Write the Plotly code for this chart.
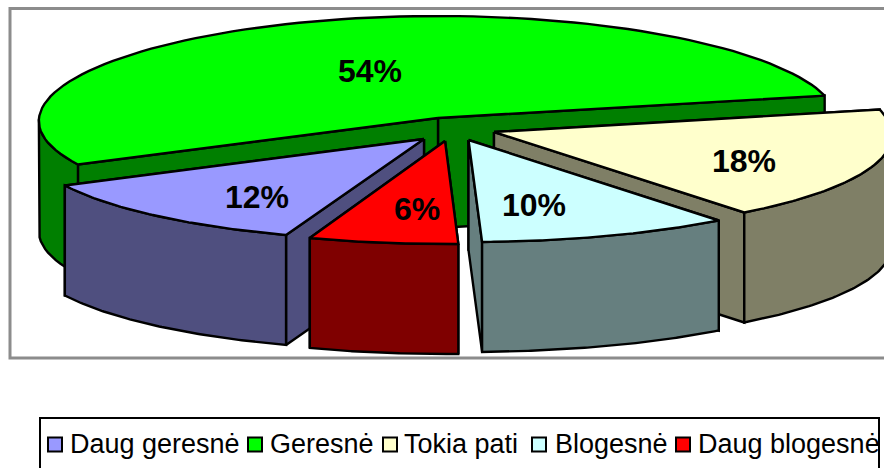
"""Exploded 3D-look pie drawn in pixel space, with a hand-placed legend row."""
import numpy as np
import plotly.graph_objects as go

categories = ["Daug geresnė", "Geresnė", "Tokia pati", "Blogesnė", "Daug blogesnė"]
shares = [12, 54, 18, 10, 6]

top_colours = ["#9999FF", "#00FF00", "#FFFFCC", "#CCFFFF", "#FF0000"]
side_colours = ["#4F4F7F", "#007F00", "#7F7F66", "#667F7F", "#7F0000"]

# per-slice explosion: apex position and ellipse radii
APEX_X = [424, 438, 494, 468.5, 445]
APEX_Y = [139, 118, 132, 140, 141]
RADIUS_X = [398, 399, 398, 398, 390]
RADIUS_Y = [102, 102, 102, 102, 103]

START_ANGLE = 250.3  # first slice starts here, runs clockwise
DEPTH = 110
PERSPECTIVE = 0.03

LABEL_X = [257, 370, 744, 534, 417]
LABEL_Y = [200, 74, 164, 208, 212]

LEGEND_MARK_X = [55, 255, 390, 539, 683]
LEGEND_TEXT_X = [70, 270, 404, 555, 698]
LEGEND_MARK_Y = 444.5
LEGEND_TEXT_Y = 446

W, H = 884, 468
fig = go.Figure()


def rim(cx, cy, rx, ry, angles):
    a = np.radians(angles)
    u, v = np.cos(a), np.sin(a)
    return cx + rx * u * (1 - PERSPECTIVE * v), cy - ry * v


def poly(xs, ys, colour):
    fig.add_trace(go.Scatter(
        x=list(xs) + [xs[0]], y=list(ys) + [ys[0]],
        mode="lines", fill="toself", fillcolor=colour,
        line={"color": "#000000", "width": 2.4},
        hoverinfo="skip", showlegend=False,
    ))


# each slice's angular range comes from its share
edges = START_ANGLE - np.cumsum([0] + shares) * 3.6

# back to front: green, cream, blue, cyan, red
for i in [1, 2, 0, 3, 4]:
    cx, cy, rx, ry = APEX_X[i], APEX_Y[i], RADIUS_X[i], RADIUS_Y[i]
    angles = np.linspace(edges[i], edges[i + 1], 90)
    xs, ys = rim(cx, cy, rx, ry, angles)

    # the two cut faces, the one further back first
    for j in sorted((0, -1), key=lambda k: ys[k]):
        poly([cx, xs[j], xs[j], cx], [cy, ys[j], ys[j] + DEPTH, cy + DEPTH], side_colours[i])

    # outer wall, only the part that faces the viewer
    front = np.sin(np.radians(angles)) <= 0
    if front.any():
        fx, fy = xs[front], ys[front]
        poly(np.r_[fx, fx[::-1]], np.r_[fy, fy[::-1] + DEPTH], side_colours[i])

    poly(np.r_[cx, xs], np.r_[cy, ys], top_colours[i])

fig.add_trace(go.Scatter(
    x=LABEL_X, y=LABEL_Y, mode="text", text=[f"{v}%" for v in shares],
    textfont={"family": "Liberation Sans", "size": 32, "color": "#000000", "weight": "bold"},
    hoverinfo="skip", showlegend=False,
))

# legend row
fig.add_trace(go.Scatter(
    x=LEGEND_MARK_X, y=[LEGEND_MARK_Y] * 5, mode="markers",
    marker={"symbol": "square", "size": 14, "color": top_colours,
            "line": {"color": "#000000", "width": 2}},
    hoverinfo="skip", showlegend=False,
))
fig.add_trace(go.Scatter(
    x=LEGEND_TEXT_X, y=[LEGEND_TEXT_Y] * 5, mode="text", text=categories,
    textposition="middle right",
    textfont={"family": "Liberation Sans", "size": 27, "color": "#000000"},
    hoverinfo="skip", showlegend=False,
))

fig.update_layout(
    width=W, height=H, margin={"l": 0, "r": 0, "t": 0, "b": 0},
    paper_bgcolor="#FFFFFF", plot_bgcolor="#FFFFFF", showlegend=False,
    xaxis={"range": [0, W], "visible": False, "fixedrange": True},
    yaxis={"range": [H, 0], "visible": False, "fixedrange": True},
    shapes=[
        {"type": "rect", "x0": 10, "x1": W + 20, "y0": 8.5, "y1": 358, "layer": "below",
         "line": {"color": "#8C8C8C", "width": 3}},
        {"type": "rect", "x0": 40, "x1": 879, "y0": 418, "y1": H + 20, "layer": "below",
         "line": {"color": "#000000", "width": 2}},
    ],
)

fig.write_html(
    "out.html",
    config={"displayModeBar": False},
    post_script="document.body.style.margin = '0'; document.body.style.overflow = 'hidden';",
)
